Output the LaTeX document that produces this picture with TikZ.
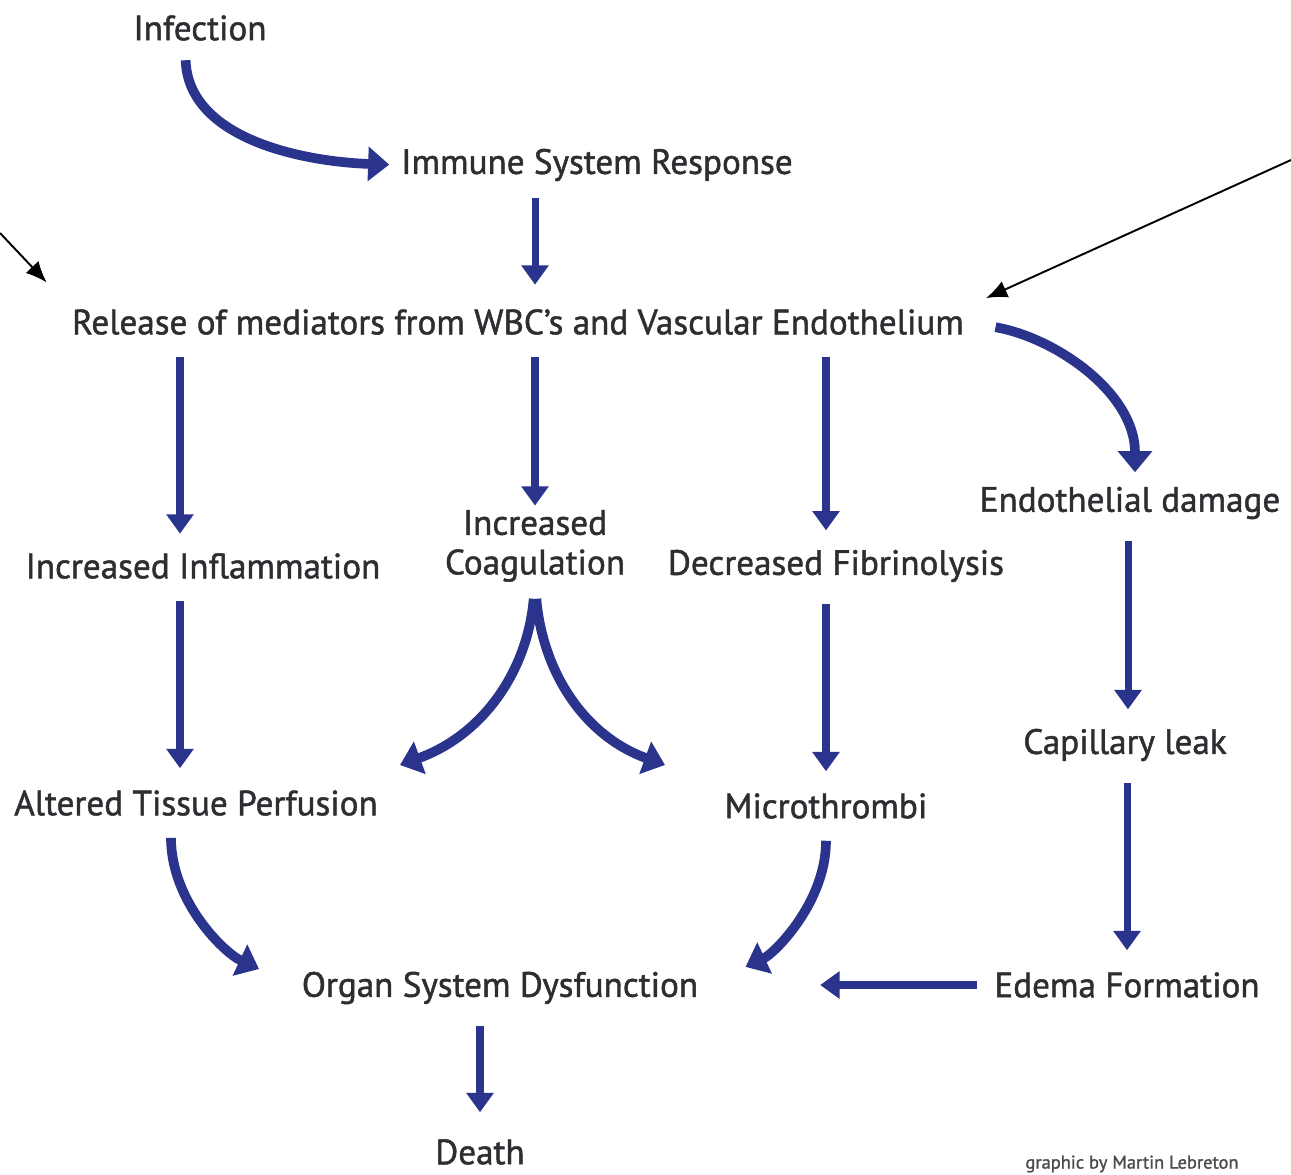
\documentclass[tikz,border=0pt]{standalone}
\usepackage{fontspec}
\setmainfont{PT Sans}[BoldFont={PT Sans}, BoldFeatures={FakeBold=1.3}]
\usepackage{xcolor}
\usepackage{tikz}
\usetikzlibrary{arrows.meta}

\definecolor{flowblue}{RGB}{42,52,140}
\definecolor{flowtext}{RGB}{45,45,50}

\begin{document}
\begin{tikzpicture}[x=0.02cm, y=-0.02cm, font=\bfseries\fontsize{20}{22.5}\selectfont, text=flowtext]
\tikzstyle{stage}=[inner sep=1pt, align=center]
\tikzstyle{credit}=[inner sep=1pt, font=\bfseries\fontsize{10.5}{12}\selectfont, text=black!70]
\tikzstyle{flow}=[draw=flowblue, line width=4pt, -{Triangle[width=15pt,length=11pt]}]
\tikzstyle{bigflow}=[draw=flowblue, line width=5.5pt, -{Triangle[width=19pt,length=12pt]}]
\tikzstyle{pointer}=[draw=black, line width=1.1pt, -{Latex[length=12pt,width=10pt]}]

\useasboundingbox[fill=white] (0,0) rectangle (1291,1175);

\node[stage] (inf) at (200,28) {Infection};
\node[stage] (imm) at (597,165) {Immune System Response};
\node[stage] (rel) at (518,322) {Release of mediators from WBC’s and Vascular Endothelium};
\node[stage] (infl) at (203,566) {Increased Inflammation};
\node[stage] (coag) at (535,546) {Increased\\Coagulation};
\node[stage] (fib) at (836,566) {Decreased Fibrinolysis};
\node[stage] (endo) at (1130,503) {Endothelial damage};
\node[stage] (alt) at (196,803) {Altered Tissue Perfusion};
\node[stage] (micro) at (826,806) {Microthrombi};
\node[stage] (cap) at (1125,745) {Capillary leak};
\node[stage] (org) at (500,988) {Organ System Dysfunction};
\node[stage] (ede) at (1127,985) {Edema Formation};
\node[stage] (death) at (480,1152) {Death};
\node[credit] (cred) at (1132,1164) {graphic by Martin Lebreton};

% free ends
\coordinate (ptrL) at (0,233);
\coordinate (ptrR) at (1291,160);
\coordinate (coagL) at (400,765);
\coordinate (coagR) at (665,765);

\draw[bigflow, shorten <=0.35cm, shorten >=0.2cm] ([xshift=-3mm]inf.south) to[out=-88,in=178] (imm.west);
\draw[flow, shorten <=0.3cm, shorten >=0.45cm] ([xshift=-12.4mm]imm.south) -- ([xshift=-12.4mm]imm.south |- rel.north);
\draw[flow, shorten <=0.4cm, shorten >=0.35cm] ([xshift=-4.6mm]infl.north |- rel.south) -- ([xshift=-4.6mm]infl.north);
\draw[flow, shorten <=0.4cm, shorten >=0.05cm] (coag.north |- rel.south) -- (coag.north);
\draw[flow, shorten <=0.4cm, shorten >=0.35cm] ([xshift=-2mm]fib.north |- rel.south) -- ([xshift=-2mm]fib.north);
\draw[bigflow, shorten <=0.6cm, shorten >=0.25cm] (rel.east) to[out=-10,in=90] ([xshift=1mm]endo.north);

\draw[flow, shorten <=0.4cm, shorten >=0.4cm] ([xshift=-4.6mm]infl.south) -- ([xshift=-4.6mm]infl.south |- alt.north);
\draw[bigflow, shorten <=0.3cm] (coag.south) to[out=-95,in=20] (coagL);
\draw[bigflow, shorten <=0.3cm] (coag.south) to[out=-85,in=160] (coagR);
\draw[flow, shorten <=0.4cm, shorten >=0.4cm] (micro.north |- fib.south) -- (micro.north);
\draw[flow, shorten <=0.4cm, shorten >=0.35cm] ([xshift=-0.4mm]endo.south) -- ([xshift=-0.4mm]endo.south |- cap.north);
\draw[flow, shorten <=0.4cm, shorten >=0.4cm] (ede.north |- cap.south) -- (ede.north);

\draw[bigflow, shorten <=0.4cm, shorten >=0.9cm] ([xshift=-5mm]alt.south) to[out=-90,in=155] (org.west);
\draw[bigflow, shorten <=0.4cm, shorten >=1.0cm] (micro.south) to[out=-90,in=25] (org.east);
\draw[flow, shorten <=0.3cm, shorten >=2.4cm] (ede.west) -- (ede.west -| org.east);
\draw[flow, shorten <=0.4cm, shorten >=0.5cm] (death.north |- org.south) -- (death.north);

\draw[pointer, shorten >=0.68cm] (ptrL) -- (rel.north west);
\draw[pointer, shorten >=0.44cm] (ptrR) -- (rel.north east);
\end{tikzpicture}
\end{document}
